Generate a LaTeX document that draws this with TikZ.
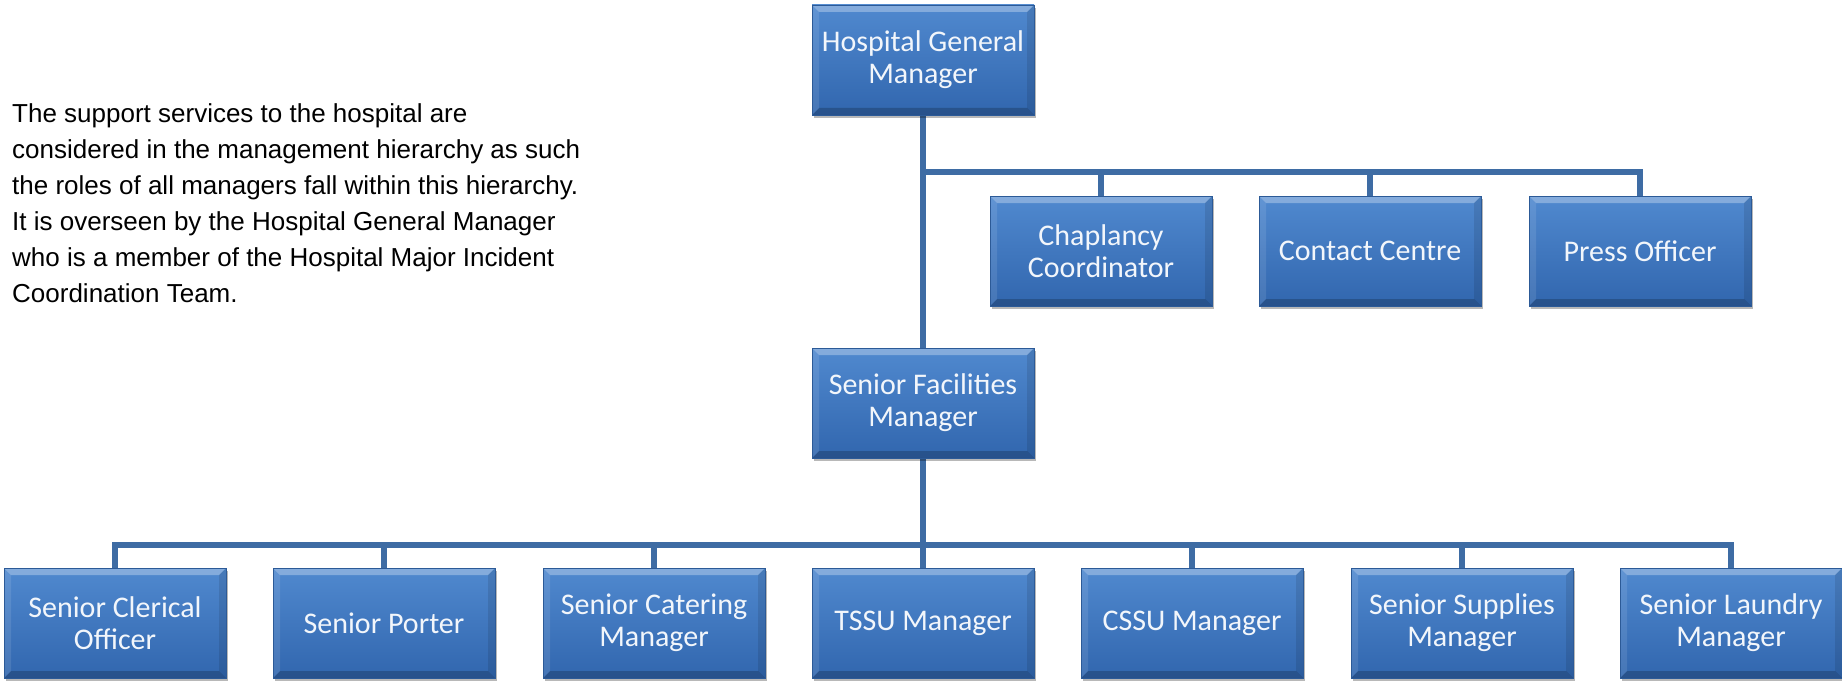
\documentclass[tikz,border=0pt]{standalone}
\usepackage{fontspec}
\newfontfamily\boxfont{Carlito}
\newfontfamily\parafont{Liberation Sans}
\usetikzlibrary{shadows,backgrounds}

\definecolor{boxtop}{HTML}{5089CF}
\definecolor{boxbot}{HTML}{3166AE}
\definecolor{boxedge}{HTML}{2C5A97}
\definecolor{boxtext}{HTML}{F2F6FB}
\definecolor{linkcol}{HTML}{3E6CA4}

\tikzset{
  orgbox/.style={
    rectangle, minimum width=222pt, minimum height=110pt, inner sep=0pt,
    top color=boxtop, bottom color=boxbot, draw=boxedge, line width=0.8pt,
    text=boxtext, align=center,
    font={\boxfont\fontsize{30}{32}\selectfont},
    drop shadow={shadow xshift=1.5pt, shadow yshift=-3pt, opacity=0.28, fill=black},
    path picture={
      % bevelled rim: light top edge, darker lower edge, shaded sides
      \fill[white, opacity=0.30]
        (path picture bounding box.north west) -- (path picture bounding box.north east)
        -- ([shift={(-7pt,-7pt)}]path picture bounding box.north east)
        -- ([shift={(7pt,-7pt)}]path picture bounding box.north west) -- cycle;
      \fill[black, opacity=0.20]
        (path picture bounding box.south west) -- (path picture bounding box.south east)
        -- ([shift={(-7pt,7pt)}]path picture bounding box.south east)
        -- ([shift={(7pt,7pt)}]path picture bounding box.south west) -- cycle;
      \fill[white, opacity=0.10]
        (path picture bounding box.north west) -- ([shift={(7pt,-7pt)}]path picture bounding box.north west)
        -- ([shift={(7pt,7pt)}]path picture bounding box.south west)
        -- (path picture bounding box.south west) -- cycle;
      \fill[black, opacity=0.10]
        (path picture bounding box.north east) -- ([shift={(-7pt,-7pt)}]path picture bounding box.north east)
        -- ([shift={(-7pt,7pt)}]path picture bounding box.south east)
        -- (path picture bounding box.south east) -- cycle;
    }
  },
  link/.style={draw=linkcol, line width=5.5pt, line join=miter},
  para/.style={inner sep=0pt, align=left, text=black,
    font={\parafont\fontsize{26}{36}\selectfont}},
}

\begin{document}
\begin{tikzpicture}[x=1pt, y=-1pt]
  \useasboundingbox (0,0) rectangle (1842,682);

  % explanatory paragraph
  \node[para, anchor=north west] (intro) at (12,103) {The support services to the hospital are\\
    considered in the management hierarchy as such\\
    the roles of all managers fall within this hierarchy.\\
    It is overseen by the Hospital General Manager\\
    who is a member of the Hospital Major Incident\\
    Coordination Team.};

  % top of the hierarchy
  \node[orgbox] (hgm) at (923,60) {Hospital General\\Manager};

  % staff reporting directly
  \node[orgbox] (chap)    at (1101,251) {Chaplancy\\Coordinator};
  \node[orgbox] (contact) at (1370,251) {Contact Centre};
  \node[orgbox] (press)   at (1640,251) {Press Officer};

  % facilities
  \node[orgbox] (sfm) at (923,403) {Senior Facilities\\Manager};

  % facilities managers
  \node[orgbox] (clerical) at (115,623)  {Senior Clerical\\Officer};
  \node[orgbox] (porter)   at (384,623)  {Senior Porter};
  \node[orgbox] (catering) at (654,623)  {Senior Catering\\Manager};
  \node[orgbox] (tssu)     at (923,623)  {TSSU Manager};
  \node[orgbox] (cssu)     at (1192,623) {CSSU Manager};
  \node[orgbox] (supplies) at (1462,623) {Senior Supplies\\Manager};
  \node[orgbox] (laundry)  at (1731,623) {Senior Laundry\\Manager};

  % page background and connectors, behind the boxes
  \begin{scope}[on background layer]
    \fill[white] (0,0) rectangle (1842,682);
    \draw[link] (hgm.south) -- (sfm.north);
    \coordinate (topbar) at (hgm.south |- 0,172);
    \foreach \c in {chap,contact,press}
      \draw[link] (topbar) -| (\c.north);
    \coordinate (botbar) at (sfm.south |- 0,545);
    \draw[link] (sfm.south) -- (botbar);
    \foreach \c in {clerical,porter,catering,tssu,cssu,supplies,laundry}
      \draw[link] (botbar) -| (\c.north);
  \end{scope}
\end{tikzpicture}
\end{document}
